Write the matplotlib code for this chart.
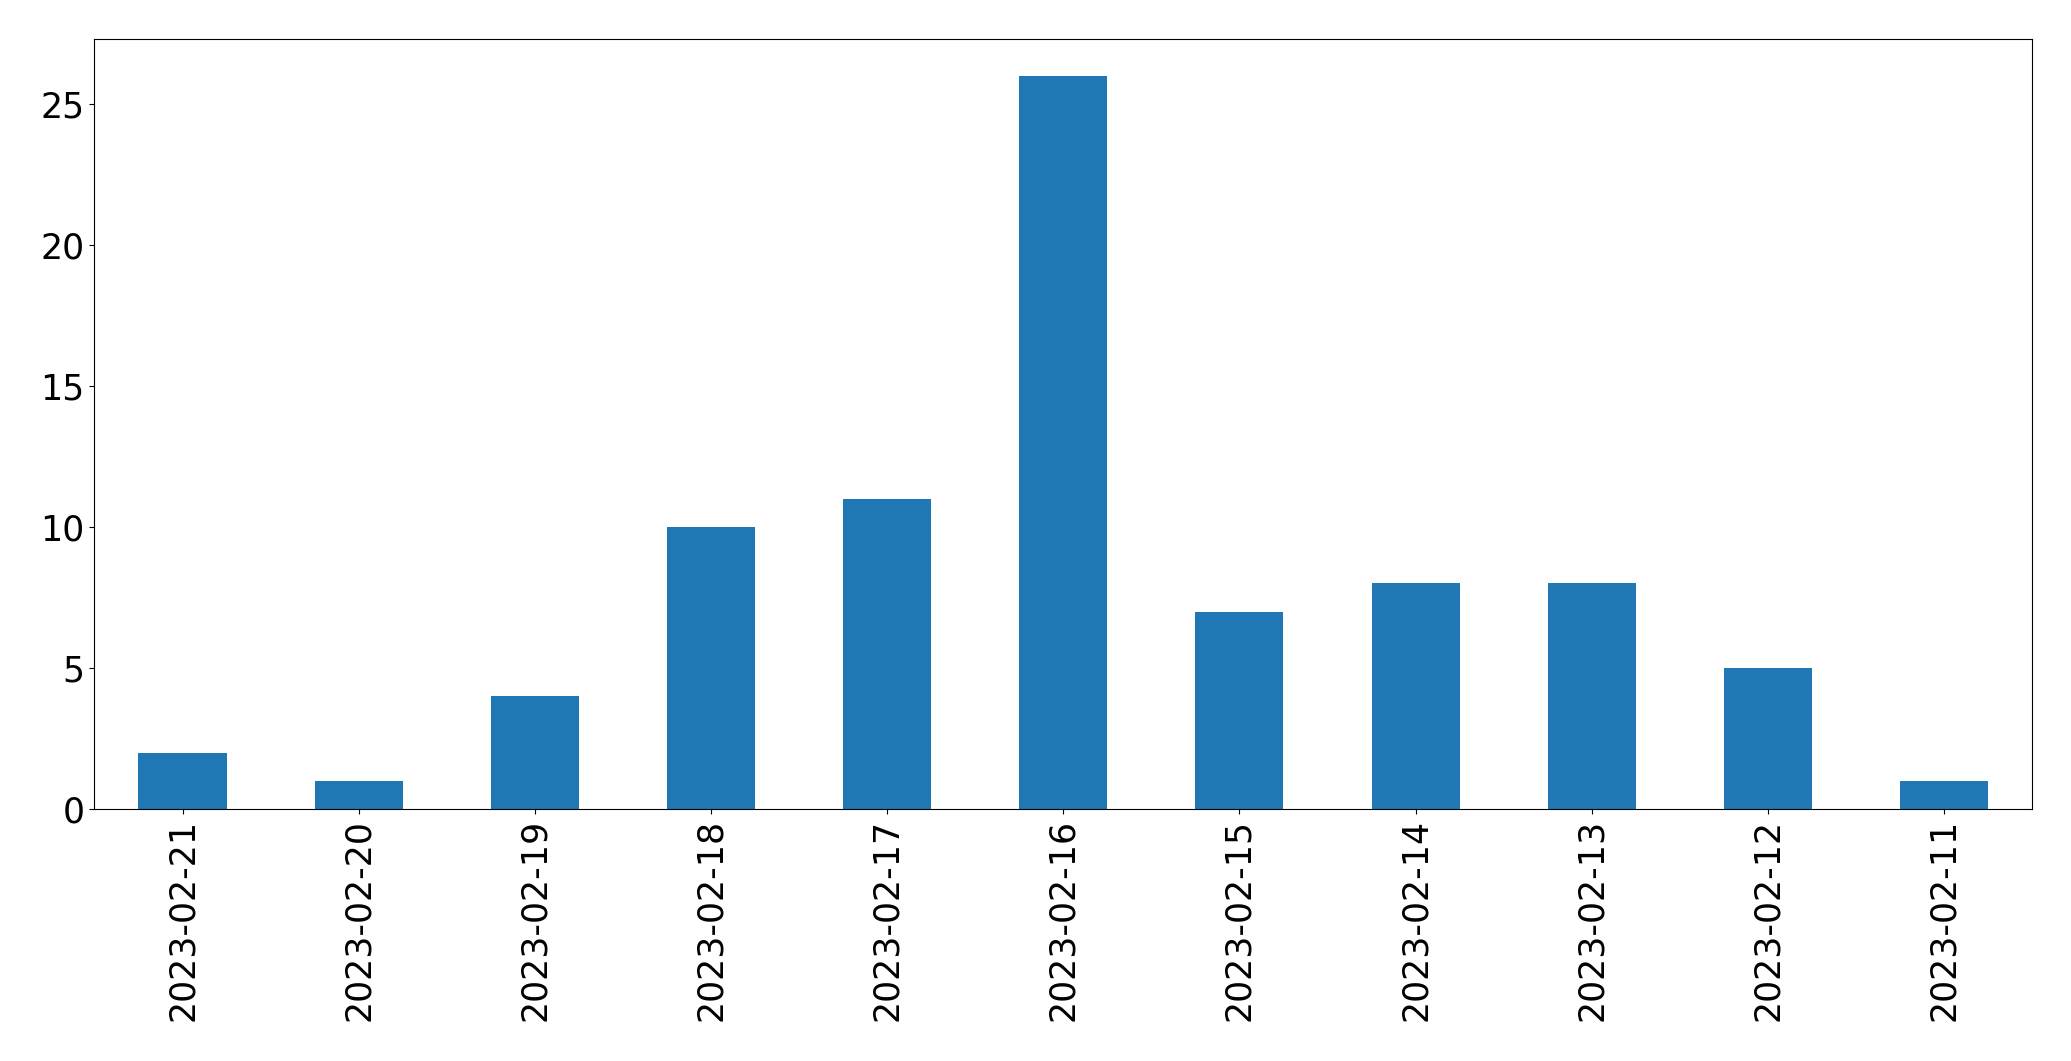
import matplotlib
matplotlib.use("Agg")
import matplotlib.pyplot as plt
import pandas as pd

# daily counts, newest first (as in the original pandas value_counts order)
dates = ["2023-02-21", "2023-02-20", "2023-02-19", "2023-02-18", "2023-02-17",
         "2023-02-16", "2023-02-15", "2023-02-14", "2023-02-13", "2023-02-12",
         "2023-02-11"]
counts = [2, 1, 4, 10, 11, 26, 7, 8, 8, 5, 1]

plt.rcParams['font.size'] = 25

series = pd.Series(counts, index=dates)

fig = plt.figure(figsize=(20.71, 10.61), dpi=100)
ax = fig.add_subplot(111)
series.plot(kind="bar", ax=ax, color="#1f77b4")
ax.tick_params(axis="both", labelsize=25)
fig.subplots_adjust(left=0.0456, right=0.9812, top=0.9632, bottom=0.2375)

fig.savefig("out.png", dpi=100)
